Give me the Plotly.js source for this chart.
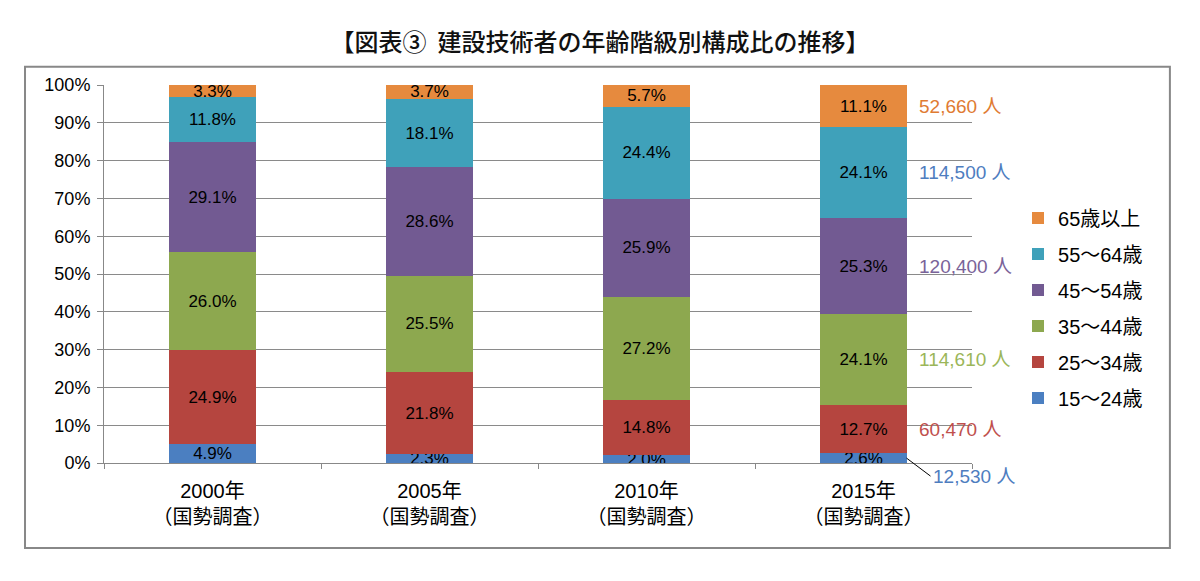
<!DOCTYPE html>
<html>
<head>
<meta charset="utf-8">
<script src="https://cdn.plot.ly/plotly-3.0.1.min.js"></script>
<style>html,body{margin:0;padding:0;background:#fff;}#chart{width:1200px;height:581px;}</style>
</head>
<body>
<div id="chart"></div>
<script>
const categories = ["2000年<br>（国勢調査）", "2005年<br>（国勢調査）", "2010年<br>（国勢調査）", "2015年<br>（国勢調査）"];
const seriesNames = ["15～24歳", "25～34歳", "35～44歳", "45～54歳", "55～64歳", "65歳以上"];
const age15_24 = [4.9, 2.3, 2.0, 2.6];
const age25_34 = [24.9, 21.8, 14.8, 12.7];
const age35_44 = [26.0, 25.5, 27.2, 24.1];
const age45_54 = [29.1, 28.6, 25.9, 25.3];
const age55_64 = [11.8, 18.1, 24.4, 24.1];
const age65plus = [3.3, 3.7, 5.7, 11.1];
const persons2015 = ["12,530 人", "60,470 人", "114,610 人", "120,400 人", "114,500 人", "52,660 人"];
const yTickVals = [0, 10, 20, 30, 40, 50, 60, 70, 80, 90, 100];
const yTickText = ["0%", "10%", "20%", "30%", "40%", "50%", "60%", "70%", "80%", "90%", "100%"];

const seriesValues = [age15_24, age25_34, age35_44, age45_54, age55_64, age65plus];
const barColors = ["#4B7FC1", "#B5453F", "#8DA84F", "#725A92", "#3FA1BA", "#E68A3E"];
const noteColors = ["#4E7DBF", "#C0504D", "#9BB659", "#7A6399", "#4E7DBF", "#E07B32"];
const FONT = "'Liberation Sans', Arial, 'Noto Sans CJK JP', sans-serif";
const TICKFONT = "'Liberation Sans', Arial, 'Noto Sans CJK JP', sans-serif";

const traces = seriesValues.map((vals, i) => ({
  type: "bar",
  name: seriesNames[i],
  x: categories,
  y: vals,
  legendgroup: "g" + i,
  legendrank: 100 - i,
  marker: {color: barColors[i]},
  text: vals.map(v => v.toFixed(1) + "%"),
  textposition: "inside",
  insidetextanchor: "middle",
  textangle: 0,
  constraintext: "none",
  textfont: {family: FONT, size: 17, color: "#000"},
  hoverinfo: "skip"
}));

// annotations for 2015 person counts at segment midpoints
const annotations = [];
let cum = 0;
const last = categories.length - 1;
seriesValues.forEach((vals, i) => {
  const v = vals[last];
  const mid = cum + v / 2;
  cum += v;
  if (i === 0) {
    annotations.push({
      x: last, y: mid, xref: "x", yref: "y",
      text: persons2015[i], showarrow: true, arrowhead: 0, arrowwidth: 1, arrowcolor: "#000",
      ax: 24, ay: 18, xshift: 43, xanchor: "left",
      font: {family: FONT, size: 19, color: noteColors[i]}
    });
  } else {
    annotations.push({
      x: last, y: mid, xref: "x", yref: "y",
      text: persons2015[i], showarrow: false, xanchor: "left", xshift: 53,
      font: {family: FONT, size: 19, color: noteColors[i]}
    });
  }
});

const layout = {
  width: 1200, height: 581,
  margin: {l: 104, r: 228, t: 85, b: 118, autoexpand: false},
  paper_bgcolor: "#fff", plot_bgcolor: "#fff",
  barmode: "stack",
  bargap: 0.6,
  title: {text: "【図表③  建設技術者の年齢階級別構成比の推移】", x: 0.5, xref: "container", xanchor: "center",
    y: 40, yref: "container", yanchor: "middle",
    font: {family: "'Noto Sans CJK JP', sans-serif", size: 24, color: "#111", weight: 500}},
  uniformtext: {minsize: 17, mode: "show"},
  xaxis: {
    type: "category",
    range: [-0.5, categories.length - 0.5],
    autorange: false,
    tickfont: {family: TICKFONT, size: 20, color: "#000"},
    ticks: "outside", tickson: "boundaries", ticklen: 5, tickcolor: "#888",
    ticklabelstandoff: 10,
    showline: true, linecolor: "#888", linewidth: 1,
    fixedrange: true
  },
  yaxis: {
    range: [0, 100],
    autorange: false,
    tickvals: yTickVals,
    ticktext: yTickText,
    tickfont: {family: FONT, size: 18, color: "#000"},
    ticks: "outside", ticklen: 6, tickcolor: "#888",
    ticklabelstandoff: 3,
    showgrid: true, gridcolor: "#8a8a8a", gridwidth: 1,
    showline: true, linecolor: "#888", linewidth: 1,
    zeroline: false,
    fixedrange: true
  },
  legend: {
    x: 1.053, y: 0.70, xanchor: "left", yanchor: "top",
    traceorder: "grouped", tracegroupgap: 7,
    font: {family: FONT, size: 20, color: "#000"},
    itemwidth: 30
  },
  annotations: annotations,
  shapes: [{
    type: "rect", xref: "paper", yref: "paper",
    x0: -0.091, x1: 1.228, y0: -0.225, y1: 1.048,
    line: {color: "#888", width: 2}, fillcolor: "rgba(0,0,0,0)", layer: "below"
  }]
};

Plotly.newPlot("chart", traces, layout, {displayModeBar: false, staticPlot: true});
</script>
</body>
</html>
